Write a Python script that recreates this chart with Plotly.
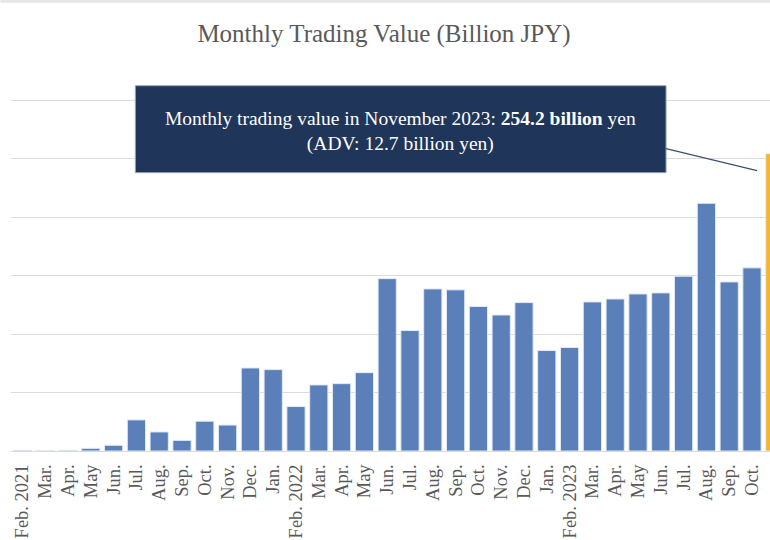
import plotly.graph_objects as go

months = ["Feb. 2021", "Mar.", "Apr.", "May", "Jun.", "Jul.", "Aug.", "Sep.", "Oct.", "Nov.", "Dec.",
          "Jan.", "Feb. 2022", "Mar.", "Apr.", "May", "Jun.", "Jul.", "Aug.", "Sep.", "Oct.", "Nov.", "Dec.",
          "Jan.", "Feb. 2023", "Mar.", "Apr.", "May", "Jun.", "Jul.", "Aug.", "Sep.", "Oct.", "Nov."]
values = [0.6, 0.1, 0.6, 2.3, 4.9, 26.6, 16.3, 9.1, 25.5, 22.2, 71.0,
          69.6, 38.0, 56.5, 57.6, 67.0, 147.4, 103.0, 138.6, 137.8, 123.6, 116.3, 126.9,
          85.9, 88.5, 127.5, 130.0, 134.3, 135.2, 149.4, 211.8, 144.6, 156.6, 254.2]

title_text = "Monthly Trading Value (Billion JPY)"
note_text = ("Monthly trading value in November 2023: <b>254.2 billion</b> yen<br>"
             "(ADV: 12.7 billion yen)")

x_idx = list(range(len(values)))
colors = ["#5a7fb9"] * (len(values) - 1) + ["#f2b637"]

SERIF = "Liberation Serif, Times New Roman, serif"

# plot-area edges in figure pixels
L, R, T, B = 10.6, 770.0, 99.3, 451.5
def px(xp):
    return (xp - L) / (R - L)
def py(yp):
    return (B - yp) / (B - T)

fig = go.Figure(go.Bar(
    x=x_idx, y=values,
    marker=dict(color=colors, line=dict(color="#e3eaf4", width=1)),
    width=0.8,
    hoverinfo="skip",
))

fig.update_layout(
    width=770, height=540,
    margin=dict(l=L, r=770 - R, t=T, b=540 - B),
    paper_bgcolor="white", plot_bgcolor="white",
    showlegend=False,
    font=dict(family=SERIF, color="#595959"),
    title=dict(text=title_text, x=384 / 770, xref="container", xanchor="center",
               y=1 - 33 / 540, yanchor="middle",
               font=dict(family=SERIF, size=25, color="#595959")),
    xaxis=dict(
        tickmode="array", tickvals=x_idx, ticktext=months,
        tickangle=-90, range=[-0.5, 32.79],
        showline=True, linecolor="#d9d9d9", linewidth=1,
        showgrid=False, zeroline=False, ticks="",
        ticklabelstandoff=5,
        tickfont=dict(family=SERIF, size=18.5, color="#595959"),
    ),
    yaxis=dict(
        range=[0, 301], dtick=50, showticklabels=False,
        showgrid=True, gridcolor="#dcdcdc", gridwidth=1,
        zeroline=False, showline=False, ticks="",
    ),
    shapes=[
        dict(type="rect", xref="paper", yref="paper",
             x0=px(135), x1=px(666), y0=py(173), y1=py(86),
             fillcolor="#1f3559", line=dict(color="#9aa5b8", width=1), layer="above"),
        dict(type="line", xref="paper", yref="paper",
             x0=px(666), y0=py(149), x1=px(757), y1=py(171),
             line=dict(color="#3f4f6b", width=1.2)),
        dict(type="line", xref="paper", yref="paper",
             x0=px(0), x1=px(770), y0=py(1.5), y1=py(1.5),
             line=dict(color="#e6e6e6", width=3)),
    ],
    annotations=[
        dict(text=note_text, xref="paper", yref="paper",
             x=px(400.5), y=py(132), xanchor="center", yanchor="middle",
             showarrow=False, align="center",
             font=dict(family=SERIF, size=19.5, color="white")),
    ],
)

fig.write_html(
    "out.html",
    config={"displayModeBar": False},
    post_script="document.body.style.margin='0';document.body.style.overflow='hidden';",
)
